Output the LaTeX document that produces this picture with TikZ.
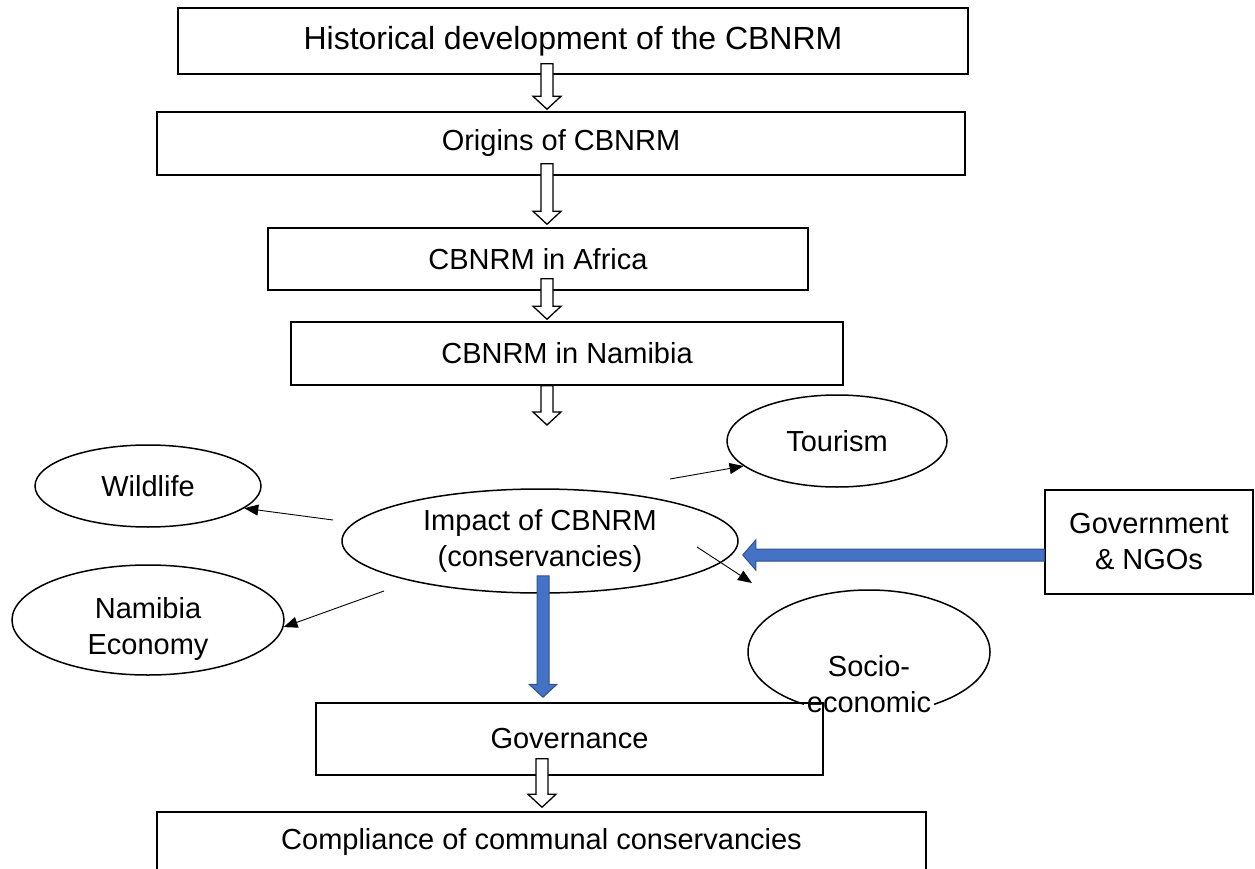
\documentclass[tikz,border=0pt]{standalone}
\usepackage{fontspec}
\setmainfont{Liberation Sans}
\usetikzlibrary{shapes.geometric, arrows.meta, positioning, calc}
\definecolor{blockblue}{RGB}{68,114,196}
\definecolor{blockedge}{RGB}{47,82,143}
\tikzstyle{box} = [rectangle, draw=black, line width=1.5pt, inner sep=0pt, align=center]
\tikzstyle{bubble} = [ellipse, draw=black, line width=1.5pt, inner sep=0pt, align=center]
\tikzstyle{thinarrow} = [line width=0.9pt, -{Triangle[length=14pt,width=11pt]}]
\tikzstyle{hollow} = [draw=black, fill=white, line width=1.3pt]
\tikzstyle{bluearrow} = [draw=blockedge, fill=blockblue, line width=1pt]
\newcommand{\blockdown}[3]{%
  \path[#1] let \p1=#2, \p2=#3 in
    (\x1-6pt,\y1) -- (\x1+6pt,\y1) -- (\x1+6pt,\y2+13pt) -- (\x1+14pt,\y2+13pt)
    -- (\x1,\y2) -- (\x1-14pt,\y2+13pt) -- (\x1-6pt,\y2+13pt) -- cycle;}
\newcommand{\blockleft}[3]{%
  \path[#1] let \p1=#2, \p2=#3 in
    (\x1,\y1+6pt) -- (\x2+13pt,\y1+6pt) -- (\x2+13pt,\y1+15pt) -- (\x2,\y1)
    -- (\x2+13pt,\y1-15pt) -- (\x2+13pt,\y1-6pt) -- (\x1,\y1-6pt) -- cycle;}

\begin{document}
\begin{tikzpicture}[x=1pt, y=-1pt, every node/.style={font=\fontsize{29}{36}\selectfont}]
    \useasboundingbox (0,0) rectangle (1255,869);
    \node (hist) [box, minimum width=790pt, minimum height=66pt, font=\fontsize{32}{38}\selectfont] at (573,41) {Historical development of the CBNRM};
    \node (origins) [box, minimum width=808pt, minimum height=63pt] at (561,143.5) {Origins of CBNRM};
    \node (africa) [box, minimum width=540pt, minimum height=62pt] at (538,259) {CBNRM in Africa};
    \node (namibia) [box, minimum width=552pt, minimum height=63pt] at (567,353.5) {CBNRM in Namibia};
    \node (impact) [bubble, minimum width=396pt, minimum height=104pt] at (540,541) {Impact of CBNRM\\(conservancies)};
    \node (tourism) [bubble, minimum width=220pt, minimum height=92pt] at (837,441) {Tourism};
    \node (wildlife) [bubble, minimum width=226pt, minimum height=82pt] at (148,486) {Wildlife};
    \node (economy) [bubble, minimum width=272pt, minimum height=110pt] at (148,620) {};
    \node (economy-text) [align=center] at ($(economy)+(0,9)$) {Namibia\\Economy};
    \node (socio) [bubble, minimum width=242pt, minimum height=124pt] at (869,652) {};
    \node (socio-text) [align=center, fill=white, inner sep=3pt] at ($(socio)+(0,32)$) {Socio-\\economic};
    \node (gov) [box, minimum width=507pt, minimum height=72pt] at (569.5,739) {Governance};
    \node (ngo) [box, minimum width=208pt, minimum height=104pt] at (1149,542) {Government\\\& NGOs};
    \node (comply) [box, minimum width=769pt, minimum height=60pt] at (541.5,842) {Compliance of communal conservancies};

    \coordinate (spine) at (547,0);
    \coordinate (below-namibia) at (547,425);
    \coordinate (imp-w) at ($(impact)+(-207,-21)$);
    \coordinate (imp-sw) at ($(impact)+(-156,50)$);
    \coordinate (imp-ne) at ($(impact)+(130,-62)$);
    \coordinate (imp-se) at ($(impact)+(157,6)$);
    \coordinate (socio-tip) at (752,583);

    \blockdown{hollow}{($(spine |- hist.south)+(0,-11)$)}{($(spine |- origins.north)+(0,-2)$)}
    \blockdown{hollow}{($(spine |- origins.south)+(0,-12)$)}{($(spine |- africa.north)+(0,-3)$)}
    \blockdown{hollow}{($(spine |- africa.south)+(0,-12)$)}{($(spine |- namibia.north)+(0,-2)$)}
    \blockdown{hollow}{(spine |- namibia.south)}{(below-namibia)}
    \blockdown{hollow}{($(gov.south)+(-27.5,-17)$)}{($(comply.north)+(0,-4)$)}

    \draw [thinarrow] (imp-w) -- (wildlife.-13);
    \draw [thinarrow] (imp-sw) -- (economy.-3);
    \draw [thinarrow] (imp-ne) -- (tourism.195);
    \draw [thinarrow] (imp-se) -- (socio-tip);

    \blockdown{bluearrow}{($(impact.south)+(3,-18)$)}{($(gov.north)+(0,-5)$)}
    \blockleft{bluearrow}{($(ngo.west)+(0,13)$)}{($(impact.east)+(4,0)$)}
\end{tikzpicture}
\end{document}
